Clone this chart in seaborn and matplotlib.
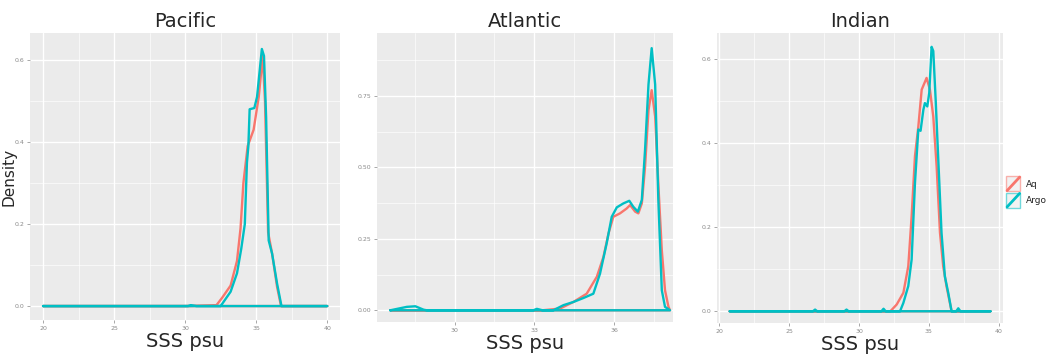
import numpy as np
import pandas as pd
import matplotlib
matplotlib.use("Agg")
import matplotlib.pyplot as plt
import seaborn as sns
from matplotlib.legend_handler import HandlerBase
from matplotlib.patches import Rectangle
from matplotlib.lines import Line2D
from matplotlib.colors import to_rgba

# ---------------- data ----------------
series_names = ["Aq", "Argo"]
panel_titles = ["Pacific", "Atlantic", "Indian"]

pac_aq_x = [20.0, 30.0, 32.2, 32.6, 33.2, 33.65, 33.9, 34.1, 34.4, 34.82, 35.18, 35.46, 35.62, 35.84, 36.12, 36.47, 36.75, 40.0]
pac_aq_y = [0.0, 0.0, 0.002, 0.02, 0.05, 0.11, 0.19, 0.30, 0.39, 0.43, 0.51, 0.61, 0.50, 0.18, 0.128, 0.047, 0.0, 0.0]
pac_argo_x = [20.0, 30.2, 30.4, 30.8, 32.5, 33.2, 33.65, 33.95, 34.2, 34.35, 34.45, 34.54, 34.87, 35.06, 35.4, 35.55, 35.7, 35.88, 36.12, 36.47, 36.78, 40.0]
pac_argo_y = [0.0, 0.0, 0.002, 0.0, 0.0, 0.035, 0.08, 0.14, 0.20, 0.35, 0.39, 0.48, 0.483, 0.51, 0.627, 0.61, 0.46, 0.16, 0.128, 0.055, 0.0, 0.0]

atl_aq_x = [27.59, 33.3, 33.96, 34.46, 34.96, 35.34, 35.59, 35.78, 35.96, 36.21, 36.46, 36.59, 36.78, 36.9, 37.03, 37.15, 37.28, 37.4, 37.53, 37.65, 37.78, 37.9, 38.03, 38.09]
atl_aq_y = [0.0, 0.0, 0.006, 0.029, 0.058, 0.117, 0.187, 0.269, 0.327, 0.339, 0.356, 0.368, 0.345, 0.339, 0.374, 0.50, 0.70, 0.77, 0.678, 0.44, 0.21, 0.07, 0.012, 0.0]
atl_argo_x = [27.59, 28.21, 28.53, 28.84, 28.96, 32.96, 33.09, 33.3, 33.71, 34.09, 34.46, 34.84, 35.21, 35.46, 35.71, 35.9, 36.09, 36.34, 36.56, 36.71, 36.88, 37.03, 37.15, 37.28, 37.4, 37.53, 37.65, 37.78, 37.9, 38.09]
atl_argo_y = [0.0, 0.012, 0.014, 0.002, 0.0, 0.0, 0.005, 0.0, 0.0, 0.018, 0.029, 0.043, 0.058, 0.128, 0.234, 0.327, 0.36, 0.374, 0.383, 0.362, 0.345, 0.386, 0.56, 0.79, 0.917, 0.79, 0.385, 0.07, 0.012, 0.0]

ind_aq_x = [20.74, 32.24, 32.69, 33.17, 33.52, 33.76, 34.0, 34.24, 34.48, 34.83, 35.07, 35.31, 35.55, 35.79, 36.02, 36.26, 36.62, 39.4]
ind_aq_y = [0.0, 0.0, 0.016, 0.044, 0.107, 0.226, 0.37, 0.44, 0.528, 0.556, 0.528, 0.464, 0.345, 0.187, 0.107, 0.059, 0.0, 0.0]
ind_argo_x = [20.74, 26.7, 26.85, 27.0, 28.95, 29.1, 29.25, 31.6, 31.75, 31.9, 32.93, 33.17, 33.52, 33.76, 34.0, 34.24, 34.4, 34.6, 34.71, 34.88, 35.02, 35.19, 35.31, 35.48, 35.67, 35.9, 36.14, 36.38, 36.62, 36.95, 37.1, 37.25, 39.4]
ind_argo_y = [0.0, 0.0, 0.004, 0.0, 0.0, 0.004, 0.0, 0.0, 0.006, 0.0, 0.0, 0.02, 0.06, 0.123, 0.306, 0.433, 0.43, 0.48, 0.496, 0.488, 0.52, 0.63, 0.62, 0.504, 0.36, 0.187, 0.083, 0.044, 0.0, 0.0, 0.007, 0.0, 0.0]

xticks = [[20, 25, 30, 35, 40], [30, 33, 36], [20, 25, 30, 35, 40]]
yticks = [[0.0, 0.2, 0.4, 0.6], [0.0, 0.25, 0.50, 0.75], [0.0, 0.2, 0.4, 0.6]]
ytick_labels = [["0.0", "0.2", "0.4", "0.6"], ["0.00", "0.25", "0.50", "0.75"], ["0.0", "0.2", "0.4", "0.6"]]

# ---------------- styling ----------------
sns.set_theme(style="darkgrid", rc={
    "axes.facecolor": "#EBEBEB",
    "grid.color": "white",
    "axes.edgecolor": "none",
})
plt.rcParams["font.family"] = ["DejaVu Sans"]

palette = {"Aq": "#F8766D", "Argo": "#00BFC4"}


def closed_frame(xs, ys, name):
    # ggplot density outline: curve, then back along the baseline
    x = list(xs) + [xs[0]]
    y = list(ys) + [0.0]
    return pd.DataFrame({"x": x, "y": y, "src": name, "order": range(len(x))})


panels = [
    (pac_aq_x, pac_aq_y, pac_argo_x, pac_argo_y),
    (atl_aq_x, atl_aq_y, atl_argo_x, atl_argo_y),
    (ind_aq_x, ind_aq_y, ind_argo_x, ind_argo_y),
]

fig = plt.figure(figsize=(10.52, 3.55), dpi=100)
W, H = 1052.0, 355.0
boxes = [(30, 33, 340, 320), (377, 33, 673, 322), (717, 33, 1003, 323)]
xlims = [(19.08, 40.9), (27.09, 38.2), (19.83, 40.3)]
ylims = [(-0.034, 0.666), (-0.041, 0.97), (-0.028, 0.663)]
xminor = [[22.5, 27.5, 32.5, 37.5], [28.5, 31.5, 34.5, 37.5], [22.5, 27.5, 32.5, 37.5]]
yminor = [[0.1, 0.3, 0.5], [0.125, 0.375, 0.625, 0.875], [0.1, 0.3, 0.5]]

for i, (ax_x, ax_y, ar_x, ar_y) in enumerate(panels):
    l, t, r, b = boxes[i]
    ax = fig.add_axes([l / W, 1 - b / H, (r - l) / W, (b - t) / H])
    df = pd.concat([closed_frame(ax_x, ax_y, "Aq"), closed_frame(ar_x, ar_y, "Argo")])
    sns.lineplot(data=df, x="x", y="y", hue="src", palette=palette, sort=False,
                 estimator=None, units="src", lw=1.7, ax=ax, legend=False)
    ax.set_xlim(*xlims[i])
    ax.set_ylim(*ylims[i])
    ax.set_xticks(xticks[i])
    ax.set_xticklabels([str(v) for v in xticks[i]])
    ax.set_yticks(yticks[i])
    ax.set_yticklabels(ytick_labels[i])
    ax.set_xticks(xminor[i], minor=True)
    ax.set_yticks(yminor[i], minor=True)
    ax.grid(which="major", color="white", lw=1.0)
    ax.grid(which="minor", color="white", lw=0.45)
    ax.tick_params(which="major", labelsize=4.5, labelcolor="#8A8A8A", length=2,
                   width=0.6, color="#9A9A9A", pad=2, bottom=True, left=True)
    ax.tick_params(which="minor", length=0)
    ax.set_title(panel_titles[i], fontsize=14, pad=4)
    ax.set_xlabel("SSS psu", fontsize=14, labelpad=1)
    if i == 0:
        ax.set_ylabel("Density", fontsize=11)
        ax.yaxis.set_label_coords((17 - l) / (r - l), 0.5)
    else:
        ax.set_ylabel("")
    for s in ax.spines.values():
        s.set_visible(False)


class DensityKey(HandlerBase):
    def create_artists(self, legend, orig_handle, xdescent, ydescent, width, height, fontsize, trans):
        c = orig_handle.get_color()
        rect = Rectangle((-xdescent + 0.5, -ydescent + 0.5), width - 1, height - 1,
                         facecolor="#F2F2F2", edgecolor=to_rgba(c, 0.55), lw=1.0, transform=trans)
        line = Line2D([-xdescent + 1, -xdescent + width - 1], [-ydescent + 1, -ydescent + height - 1],
                      color=c, lw=2.0, transform=trans)
        return [rect, line]


handles = [Line2D([], [], color=palette[n]) for n in series_names]
fig.legend(handles, series_names, loc="center left", bbox_to_anchor=(1003 / W, 1 - 192 / H),
           frameon=False, fontsize=6.5, handlelength=1.7, handleheight=2.4, handletextpad=0.5,
           labelspacing=0.0, borderpad=0.1, borderaxespad=0.2, handler_map={Line2D: DensityKey()})

fig.savefig("out.png", dpi=100)
